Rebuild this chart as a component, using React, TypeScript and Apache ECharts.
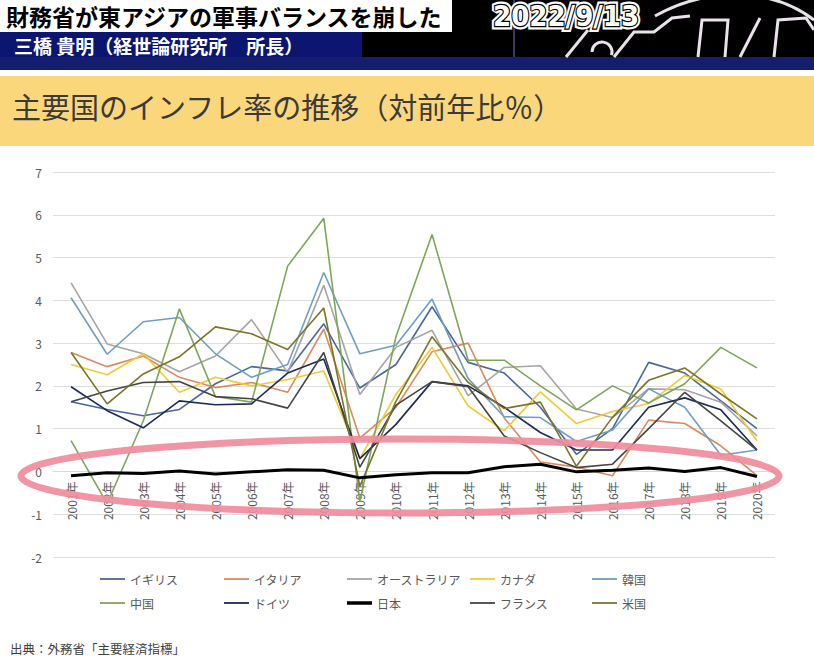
import React, { useEffect, useRef } from "react";
import * as echarts from "echarts";

const years = ["2001年","2002年","2003年","2004年","2005年","2006年","2007年","2008年","2009年","2010年","2011年","2012年","2013年","2014年","2015年","2016年","2017年","2018年","2019年","2020年"];

const uk = [1.63, 1.45, 1.3, 1.45, 2.05, 2.45, 2.35, 3.45, 1.95, 2.5, 3.85, 2.55, 2.3, 1.5, 0.4, 1.0, 2.55, 2.3, 1.65, 1.0];
const italy = [2.78, 2.45, 2.7, 2.2, 1.96, 2.08, 1.85, 3.33, 0.78, 1.5, 2.8, 3.0, 1.25, 0.22, 0.1, -0.1, 1.2, 1.12, 0.6, -0.1];
const australia = [4.41, 2.98, 2.75, 2.33, 2.7, 3.55, 2.31, 4.35, 1.8, 2.9, 3.3, 1.77, 2.43, 2.47, 1.46, 1.26, 1.93, 1.91, 1.62, 0.83];
const canada = [2.5, 2.26, 2.75, 1.85, 2.2, 2.0, 2.15, 2.35, 0.3, 1.8, 2.9, 1.53, 0.95, 1.86, 1.12, 1.4, 1.59, 2.24, 1.93, 0.71];
const korea = [4.06, 2.74, 3.5, 3.6, 2.75, 2.2, 2.5, 4.65, 2.75, 2.95, 4.03, 2.17, 1.28, 1.26, 0.7, 0.97, 1.93, 1.5, 0.38, 0.5];
const china = [0.72, -0.75, 1.18, 3.8, 1.75, 1.62, 4.8, 5.92, -0.7, 3.15, 5.54, 2.6, 2.6, 2.0, 1.44, 2.0, 1.6, 2.05, 2.9, 2.42];
const germany = [1.98, 1.42, 1.02, 1.65, 1.56, 1.58, 2.3, 2.63, 0.3, 1.1, 2.1, 2.0, 1.5, 0.91, 0.5, 0.5, 1.5, 1.72, 1.44, 0.5];
const japan = [-0.1, -0.03, -0.05, 0.01, -0.06, -0.01, 0.04, 0.03, -0.15, -0.08, -0.03, -0.03, 0.11, 0.17, -0.01, 0.03, 0.08, 0.0, 0.09, -0.12];
const france = [1.63, 1.88, 2.08, 2.1, 1.75, 1.7, 1.48, 2.78, 0.1, 1.55, 2.1, 1.98, 0.83, 0.44, 0.09, 0.17, 1.0, 1.85, 1.18, 0.5];
const us = [2.78, 1.58, 2.28, 2.68, 3.38, 3.22, 2.85, 3.82, -0.35, 1.64, 3.15, 2.08, 1.47, 1.62, 0.12, 1.27, 2.13, 2.42, 1.81, 1.23];

const seriesNames = ["イギリス", "イタリア", "オーストラリア", "カナダ", "韓国", "中国", "ドイツ", "日本", "フランス", "米国"];
const seriesData = [uk, italy, australia, canada, korea, china, germany, japan, france, us];
const seriesColors = ["#4A67A0", "#D98B5E", "#A5A5A5", "#EFCB35", "#6E9EC6", "#7FA55A", "#1F2B57", "#000000", "#454545", "#7A7428"];

const yTicks = { min: -2, max: 7, interval: 1 };

const FONT = '"Noto Sans CJK JP", "Noto Sans", sans-serif';

export default function App() {
  const ref = useRef<HTMLDivElement>(null);
  useEffect(() => {
    if (!ref.current) return;
    const chart = echarts.init(ref.current, undefined, { renderer: "svg" });
    const gridTop = 172;
    const gridBottom = 114;
    const plotH = 671 - gridTop - gridBottom;
    const zeroOffset = (plotH * (0 - yTicks.min)) / (yTicks.max - yTicks.min);
    const legendX = [100, 224, 347, 470, 592];
    const legendY = [573, 597];
    const option: any = {
      animation: false,
      backgroundColor: "#ffffff",
      textStyle: { fontFamily: FONT },
      grid: { left: 53, right: 39, top: gridTop, bottom: gridBottom, containLabel: false },
      xAxis: {
        type: "category",
        data: years,
        boundaryGap: true,
        position: "bottom",
        offset: -zeroOffset,
        axisLine: { show: true, onZero: false, lineStyle: { color: "#d9d9d9", width: 1 } },
        axisTick: { show: false },
        axisLabel: { rotate: 90, color: "#595959", fontSize: 12, margin: 10, fontFamily: FONT, interval: 0 },
      },
      yAxis: {
        type: "value",
        min: yTicks.min,
        max: yTicks.max,
        interval: yTicks.interval,
        axisLine: { show: false },
        axisTick: { show: false },
        axisLabel: { color: "#595959", fontSize: 12, margin: 11, fontFamily: FONT },
        splitLine: { lineStyle: { color: "#dedede", width: 1 } },
      },
      legend: seriesNames.map((n, i) => ({
        data: [{ name: n, icon: "rect" }],
        left: legendX[i % 5],
        top: legendY[Math.floor(i / 5)],
        itemWidth: 25,
        itemHeight: n === "日本" ? 3.5 : 1.8,
        itemGap: 0,
        padding: 0,
        textStyle: { color: "#595959", fontSize: 12, fontFamily: FONT },
      })),
      series: seriesNames.map((n, i) => ({
        name: n,
        type: "line",
        data: seriesData[i],
        symbol: "none",
        smooth: false,
        z: n === "日本" ? 5 : 2,
        lineStyle: { color: seriesColors[i], width: n === "日本" ? 3 : 1.6 },
        itemStyle: { color: seriesColors[i] },
      })),
      graphic: [
        // header black area
        { type: "rect", shape: { x: 0, y: 0, width: 814, height: 58 }, style: { fill: "#000000" }, z: 0 },
        { type: "rect", shape: { x: 0, y: 0, width: 452, height: 32 }, style: { fill: "#ffffff" }, z: 1 },
        { type: "rect", shape: { x: 0, y: 32, width: 362, height: 26 }, style: { fill: "#0C1570" }, z: 1 },
        { type: "rect", shape: { x: 0, y: 57, width: 814, height: 13 }, style: { fill: "#151E6E" }, z: 1 },
        { type: "rect", shape: { x: 0, y: 76, width: 814, height: 70 }, style: { fill: "#FBD77C" }, z: 1 },
        { type: "line", shape: { x1: 514, y1: 0, x2: 514, y2: 57 }, style: { stroke: "#46507e", lineWidth: 1.5 }, z: 1 },
        // header texts
        { type: "text", x: 6, y: 16, style: { text: "財務省が東アジアの軍事バランスを崩した", fill: "#000", fontSize: 23, fontWeight: "bold", fontFamily: FONT, verticalAlign: "middle" }, z: 3 },
        { type: "text", x: 14, y: 45, style: { text: "三橋 貴明（経世論研究所　所長）", fill: "#fff", fontSize: 19, fontWeight: "bold", fontFamily: FONT, verticalAlign: "middle" }, z: 3 },
        { type: "text", x: 493, y: 16, style: { text: "2022/9/13", fill: "#fff", stroke: "#fff", lineWidth: 7, fontSize: 29, fontWeight: "bold", fontFamily: '"DejaVu Sans", sans-serif', verticalAlign: "middle" }, scaleX: 0.9, z: 3 },
        { type: "text", x: 493, y: 16, style: { text: "2022/9/13", fill: "#fff", stroke: "#000", lineWidth: 2.5, fontSize: 29, fontWeight: "bold", fontFamily: '"DejaVu Sans", sans-serif', verticalAlign: "middle" }, scaleX: 0.9, z: 4 },
        // logo strokes
        { type: "bezierCurve", shape: { x1: 655, y1: 16, cpx1: 705, cpy1: -12, x2: 814, y2: 20, cpx2: 770, cpy2: -14 }, style: { stroke: "#e9e2ea", lineWidth: 3, fill: "none" }, z: 3 },
        { type: "polyline", shape: { points: [[566, 57], [588, 30]] }, style: { stroke: "#e9e2ea", lineWidth: 3 }, z: 3 },
        { type: "arc", shape: { cx: 602, cy: 52, r: 10, startAngle: Math.PI, endAngle: Math.PI * 2.1 }, style: { stroke: "#e9e2ea", lineWidth: 3, fill: "none" }, z: 3 },
        { type: "polyline", shape: { points: [[614, 57], [634, 32], [654, 32], [672, 18], [690, 16]] }, style: { stroke: "#e9e2ea", lineWidth: 3 }, z: 3 },
        { type: "polyline", shape: { points: [[698, 57], [702, 20], [728, 20], [725, 57]] }, style: { stroke: "#e9e2ea", lineWidth: 3 }, z: 3 },
        { type: "polyline", shape: { points: [[740, 57], [760, 18]] }, style: { stroke: "#e9e2ea", lineWidth: 3 }, z: 3 },
        { type: "polyline", shape: { points: [[774, 57], [778, 20], [806, 18], [814, 30]] }, style: { stroke: "#e9e2ea", lineWidth: 3 }, z: 3 },
        // chart title
        { type: "text", x: 12, y: 106, style: { text: "主要国のインフレ率の推移（対前年比％）", fill: "#3a3a3a", fontSize: 29, fontFamily: FONT, verticalAlign: "middle" }, z: 3 },
        // footnote
        { type: "text", x: 10, y: 648, style: { text: "出典：外務省「主要経済指標」", fill: "#404040", fontSize: 12.5, fontFamily: FONT, verticalAlign: "middle" }, z: 3 },
        // pink ellipse annotation
        { type: "ellipse", shape: { cx: 400, cy: 476, rx: 379, ry: 37 }, style: { stroke: "#F08C9C", lineWidth: 7, fill: "none", opacity: 0.92 }, z: 10 },
      ],
    };
    chart.setOption(option);
    return () => chart.dispose();
  }, []);
  return <div ref={ref} style={{ position: "fixed", left: 0, top: 0, width: 814, height: 671 }} />;
}
